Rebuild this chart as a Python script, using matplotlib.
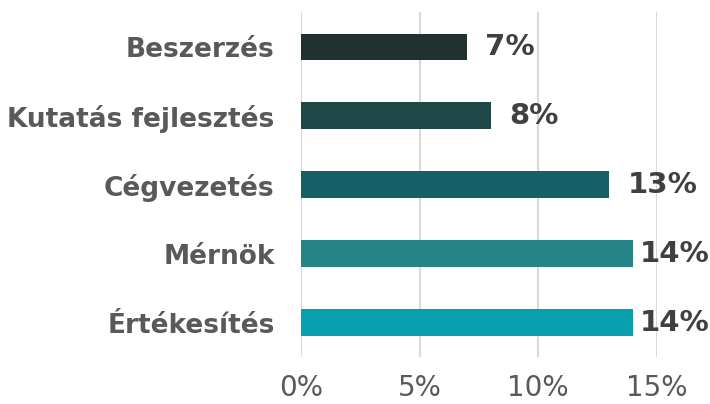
import matplotlib.pyplot as plt
from matplotlib.ticker import FuncFormatter

# data
categories = ['Beszerzés', 'Kutatás fejlesztés', 'Cégvezetés', 'Mérnök', 'Értékesítés']
values = [0.07, 0.08, 0.13, 0.14, 0.14]
colors = ['#213131', '#1f4747', '#155f66', '#268386', '#079fae']
xticks = [0, 0.05, 0.10, 0.15]

fig = plt.figure(figsize=(7.1, 4.04), dpi=100)
ax = fig.add_axes([0.424, 0.1163, 0.501, 0.8537])

ypos = list(range(len(categories)))
ax.barh(ypos, values, height=0.38, color=colors, zorder=3)

ax.set_xlim(0, 0.15)
ax.set_ylim(len(categories) - 0.5, -0.5)
ax.set_yticks(ypos)
ax.set_yticklabels(categories, fontsize=19, fontweight='bold', color='#595959')
ax.set_xticks(xticks)
ax.xaxis.set_major_formatter(FuncFormatter(lambda v, p: f'{v*100:.0f}%'))
ax.tick_params(axis='x', labelsize=20, labelcolor='#595959', length=0, pad=12)
ax.tick_params(axis='y', length=0, pad=19)
ax.grid(axis='x', color='#d9d9d9', linewidth=1.5, zorder=0)
for s in ax.spines.values():
    s.set_visible(False)

# value labels, pushed in a bit when they would run off the figure
for y, v in zip(ypos, values):
    pad = 5 if v >= max(values) else 13
    ax.annotate(f'{v*100:.0f}%', (v, y), xytext=(pad, 0), textcoords='offset points',
                va='center', ha='left', fontsize=21, fontweight='bold',
                color='#404040', annotation_clip=False)

fig.savefig('out.png', dpi=100)
